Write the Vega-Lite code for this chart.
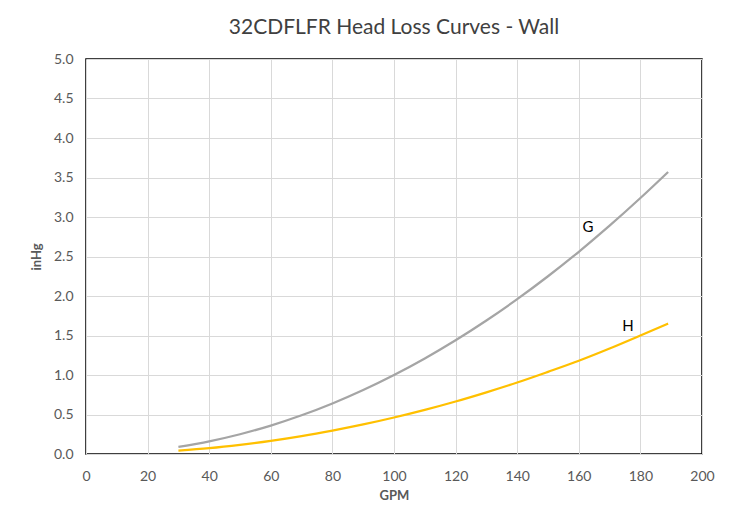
{
  "$schema": "https://vega.github.io/schema/vega-lite/v6.json",
  "width": 616,
  "height": 395,
  "autosize": {"type": "none"},
  "padding": {"left": 86, "top": 59, "right": 27, "bottom": 65},
  "background": "white",
  "title": {"text": "32CDFLFR Head Loss Curves - Wall", "font": "Lato", "fontSize": 21, "fontWeight": "normal", "color": "#404040", "offset": 14},
  "config": {
    "view": {"stroke": "#000000", "strokeWidth": 1.5},
    "axis": {"labelFont": "Lato", "labelFontSize": 14, "labelColor": "#595959", "titleFont": "Lato", "titleFontSize": 13, "titleColor": "#595959", "titleFontWeight": "bold", "gridColor": "#d9d9d9", "gridWidth": 1, "domain": false, "ticks": false, "labelOverlap": false, "labelFlush": false, "labelBound": false}
  },
  "datasets": {
    "curves": [
      {"gpm": 30, "inhg": 0.09, "curve": "G"},
      {"gpm": 40, "inhg": 0.16, "curve": "G"},
      {"gpm": 50, "inhg": 0.25, "curve": "G"},
      {"gpm": 60, "inhg": 0.36, "curve": "G"},
      {"gpm": 70, "inhg": 0.49, "curve": "G"},
      {"gpm": 80, "inhg": 0.64, "curve": "G"},
      {"gpm": 90, "inhg": 0.81, "curve": "G"},
      {"gpm": 100, "inhg": 1.0, "curve": "G"},
      {"gpm": 110, "inhg": 1.21, "curve": "G"},
      {"gpm": 120, "inhg": 1.44, "curve": "G"},
      {"gpm": 130, "inhg": 1.69, "curve": "G"},
      {"gpm": 140, "inhg": 1.96, "curve": "G"},
      {"gpm": 150, "inhg": 2.25, "curve": "G"},
      {"gpm": 160, "inhg": 2.56, "curve": "G"},
      {"gpm": 170, "inhg": 2.89, "curve": "G"},
      {"gpm": 180, "inhg": 3.24, "curve": "G"},
      {"gpm": 189, "inhg": 3.57, "curve": "G"},
      {"gpm": 30, "inhg": 0.042, "curve": "H"},
      {"gpm": 40, "inhg": 0.074, "curve": "H"},
      {"gpm": 50, "inhg": 0.116, "curve": "H"},
      {"gpm": 60, "inhg": 0.166, "curve": "H"},
      {"gpm": 70, "inhg": 0.226, "curve": "H"},
      {"gpm": 80, "inhg": 0.296, "curve": "H"},
      {"gpm": 90, "inhg": 0.374, "curve": "H"},
      {"gpm": 100, "inhg": 0.462, "curve": "H"},
      {"gpm": 110, "inhg": 0.559, "curve": "H"},
      {"gpm": 120, "inhg": 0.665, "curve": "H"},
      {"gpm": 130, "inhg": 0.781, "curve": "H"},
      {"gpm": 140, "inhg": 0.905, "curve": "H"},
      {"gpm": 150, "inhg": 1.04, "curve": "H"},
      {"gpm": 160, "inhg": 1.18, "curve": "H"},
      {"gpm": 170, "inhg": 1.335, "curve": "H"},
      {"gpm": 180, "inhg": 1.5, "curve": "H"},
      {"gpm": 189, "inhg": 1.65, "curve": "H"}
    ],
    "labels": [
      {"gpm": 163, "inhg": 2.87, "curve": "G"},
      {"gpm": 176, "inhg": 1.62, "curve": "H"}
    ]
  },
  "encoding": {
    "x": {"field": "gpm", "type": "quantitative", "title": "GPM", "scale": {"domain": [0, 200], "nice": false}, "axis": {"values": [0, 20, 40, 60, 80, 100, 120, 140, 160, 180, 200], "labelPadding": 15, "titlePadding": 6}},
    "y": {"field": "inhg", "type": "quantitative", "title": "inHg", "scale": {"domain": [0, 5], "nice": false}, "axis": {"values": [0, 0.5, 1, 1.5, 2, 2.5, 3, 3.5, 4, 4.5, 5], "format": ".1f", "labelPadding": 13, "titlePadding": 10}}
  },
  "layer": [
    {
      "data": {"name": "curves"},
      "mark": {"type": "line", "strokeWidth": 2.25, "interpolate": "monotone"},
      "encoding": {
        "color": {"field": "curve", "type": "nominal", "scale": {"domain": ["G", "H"], "range": ["#a5a5a5", "#ffc000"]}, "legend": null}
      }
    },
    {
      "data": {"name": "labels"},
      "mark": {"type": "text", "font": "Lato", "fontSize": 15, "color": "#000000"},
      "encoding": {
        "text": {"field": "curve"}
      }
    }
  ]
}
